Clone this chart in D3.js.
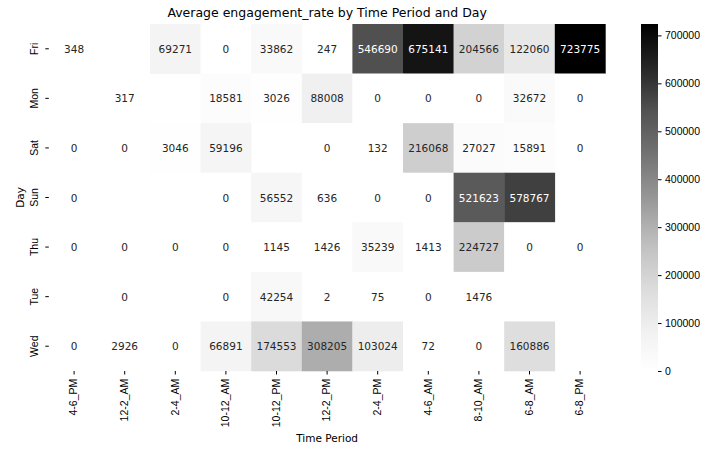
<!DOCTYPE html>
<html><head><meta charset="utf-8">
<script src="https://cdn.jsdelivr.net/npm/d3@7"></script>
<style>body{margin:0;background:#fff;} svg{display:block;font-family:"DejaVu Sans",sans-serif;}</style>
</head><body>
<svg id="c" width="722" height="454"></svg>
<script>
const days = ["Fri","Mon","Sat","Sun","Thu","Tue","Wed"];
const periods = ["4-6_PM","12-2_AM","2-4_AM","10-12_AM","10-12_PM","12-2_PM","2-4_PM","4-6_AM","8-10_AM","6-8_AM","6-8_PM"];
const valFri = [348,null,69271,0,33862,247,546690,675141,204566,122060,723775];
const valMon = [null,317,null,18581,3026,88008,0,0,0,32672,0];
const valSat = [0,0,3046,59196,null,0,132,216068,27027,15891,0];
const valSun = [0,null,null,0,56552,636,0,0,521623,578767,null];
const valThu = [0,0,0,0,1145,1426,35239,1413,224727,0,0];
const valTue = [null,0,null,0,42254,2,75,0,1476,null,null];
const valWed = [0,2926,0,66891,174553,308205,103024,72,0,160886,null];
const colorbarTicks = [0,100000,200000,300000,400000,500000,600000,700000];
const titleText = "Average engagement_rate by Time Period and Day";

const rows = [valFri,valMon,valSat,valSun,valThu,valTue,valWed];
const cells = [];
rows.forEach((r,i)=>r.forEach((v,j)=>{ if(v!==null) cells.push({day:days[i],period:periods[j],v}); }));
const vmax = d3.max(cells,d=>d.v), vmin = 0;

const greys = ["#ffffff","#f0f0f0","#d9d9d9","#bdbdbd","#969696","#737373","#525252","#252525","#000000"];
const color = d3.scaleLinear()
  .domain(greys.map((_,i)=>vmin + (vmax-vmin)*i/(greys.length-1)))
  .range(greys).interpolate(d3.interpolateRgb).clamp(true);

const L=48.8, R=605.4, T=24, B=371;
const svg = d3.select("#c");
const x = d3.scaleBand().domain(periods).range([L,R]);
const y = d3.scaleBand().domain(days).range([T,B]);

svg.append("g").selectAll("rect").data(cells).join("rect")
  .attr("x",d=>x(d.period)).attr("y",d=>y(d.day))
  .attr("width",x.bandwidth()+0.3).attr("height",y.bandwidth()+0.3)
  .attr("fill",d=>color(d.v));

function lum(c){
  const rgb = d3.rgb(c);
  const f = u=>{u/=255; return u<=0.03928? u/12.92 : Math.pow((u+0.055)/1.055,2.4);};
  return 0.2126*f(rgb.r)+0.7152*f(rgb.g)+0.0722*f(rgb.b);
}
svg.append("g").selectAll("text").data(cells).join("text")
  .attr("x",d=>x(d.period)+x.bandwidth()/2).attr("y",d=>y(d.day)+y.bandwidth()/2)
  .attr("text-anchor","middle").attr("dominant-baseline","central")
  .attr("font-size","10.5px")
  .attr("fill",d=>lum(color(d.v))>0.408?"#262626":"#ffffff")
  .text(d=>d3.format("d")(d.v));

// axes
const xa = svg.append("g").attr("transform",`translate(0,${B})`)
  .call(d3.axisBottom(x).tickSize(3.5).tickPadding(3.5));
xa.select(".domain").remove();
xa.selectAll("text").attr("font-size","10.5px").attr("fill","#000")
  .attr("transform","rotate(-90)").attr("text-anchor","end")
  .attr("dy","0.32em").attr("dx","-0.55em").attr("y",0).attr("x",-2);
xa.selectAll("line").attr("stroke","#000");

const ya = svg.append("g").attr("transform",`translate(${L},0)`)
  .call(d3.axisLeft(y).tickSize(3.5).tickPadding(3.5));
ya.select(".domain").remove();
ya.selectAll("line").attr("stroke","#000");
ya.selectAll("text").attr("font-size","10.5px").attr("fill","#000")
  .attr("transform",d=>`translate(-11,${y(d)+y.bandwidth()/2}) rotate(-90)`)
  .attr("x",0).attr("y",0).attr("dy","0").attr("text-anchor","middle")
  .attr("dominant-baseline","auto");
ya.selectAll(".tick").attr("transform",null);
ya.selectAll(".tick line").attr("y1",d=>y(d)+y.bandwidth()/2).attr("y2",d=>y(d)+y.bandwidth()/2);

svg.append("text").attr("x",(L+R)/2).attr("y",17).attr("text-anchor","middle")
  .attr("font-size","12.5px").attr("fill","#000").text(titleText);
svg.append("text").attr("x",(L+R)/2).attr("y",442).attr("text-anchor","middle")
  .attr("font-size","10.5px").attr("fill","#000").text("Time Period");
svg.append("text").attr("transform",`translate(24,${(T+B)/2}) rotate(-90)`).attr("text-anchor","middle")
  .attr("font-size","10.5px").attr("fill","#000").text("Day");

// colorbar
const cbX=641, cbW=17;
const cy = d3.scaleLinear().domain([vmin,vmax]).range([B,T]);
const defs = svg.append("defs");
const grad = defs.append("linearGradient").attr("id","g").attr("x1",0).attr("y1",1).attr("x2",0).attr("y2",0);
d3.range(0,1.0001,0.05).forEach(t=>grad.append("stop").attr("offset",t).attr("stop-color",color(vmin+t*(vmax-vmin))));
svg.append("rect").attr("x",cbX).attr("y",T).attr("width",cbW).attr("height",B-T).attr("fill","url(#g)");
const ca = svg.append("g").attr("transform",`translate(${cbX+cbW},0)`)
  .call(d3.axisRight(cy).tickValues(colorbarTicks).tickFormat(d3.format("d")).tickSize(3.5).tickPadding(3.5));
ca.select(".domain").remove();
ca.selectAll("line").attr("stroke","#000");
ca.selectAll("text").attr("font-size","10.5px").attr("fill","#000");
</script>
</body></html>
